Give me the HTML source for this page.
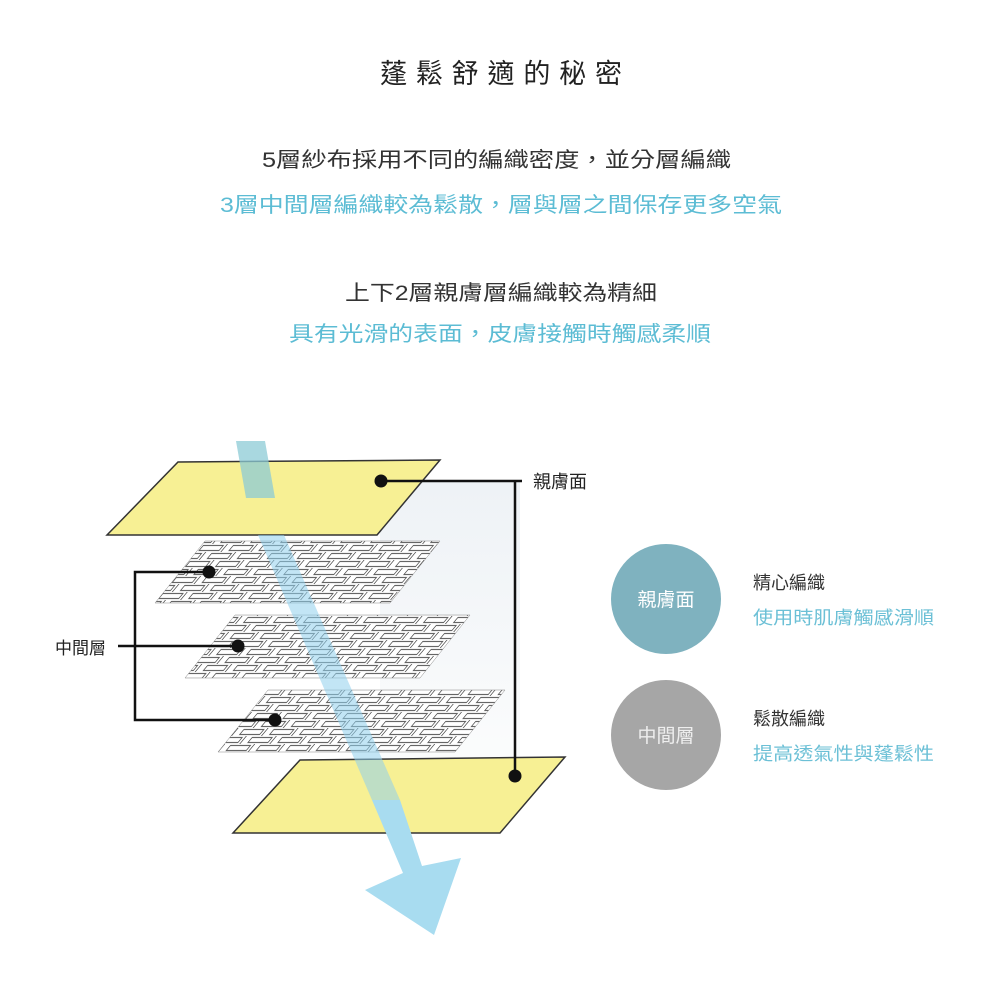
<!DOCTYPE html>
<html><head><meta charset="utf-8"><style>
html,body{margin:0;padding:0;background:#fff;width:1000px;height:1000px;overflow:hidden}
svg{display:block}
text{font-family:"Liberation Sans","Noto Sans CJK TC",sans-serif}
</style></head><body>
<svg width="1000" height="1000" viewBox="0 0 1000 1000" xmlns="http://www.w3.org/2000/svg">
<defs>
<pattern id="weave" width="30" height="16" patternUnits="userSpaceOnUse" patternTransform="skewX(-40)">
<rect width="30" height="16" fill="#fff"/>
<rect x="1" y="1.5" width="20" height="5" fill="none" stroke="#555" stroke-width="1"/>
<rect x="16" y="9.5" width="20" height="5" fill="none" stroke="#555" stroke-width="1"/>
<rect x="-14" y="9.5" width="20" height="5" fill="none" stroke="#555" stroke-width="1"/>
<line x1="24" y1="0" x2="24" y2="8" stroke="#555" stroke-width="1"/>
<line x1="9" y1="8" x2="9" y2="16" stroke="#555" stroke-width="1"/>
</pattern>
<linearGradient id="bg" x1="0" y1="0" x2="0" y2="1">
<stop offset="0" stop-color="#eef2f6"/><stop offset="1" stop-color="#fcfdfd"/>
</linearGradient>
</defs>

<g fill="#222" font-size="27">
<text x="380" y="83" textLength="242" lengthAdjust="spacing">蓬鬆舒適的秘密</text>
</g>
<g font-size="21">
<text x="262" y="167" fill="#333" textLength="469" lengthAdjust="spacingAndGlyphs">5層紗布採用不同的編織密度，並分層編織</text>
<text x="220" y="212" fill="#5cbcd4" textLength="562" lengthAdjust="spacingAndGlyphs">3層中間層編織較為鬆散，層與層之間保存更多空氣</text>
<text x="345" y="300" fill="#333" textLength="312" lengthAdjust="spacingAndGlyphs">上下2層親膚層編織較為精細</text>
<text x="289" y="341" fill="#5cbcd4" textLength="422" lengthAdjust="spacingAndGlyphs">具有光滑的表面，皮膚接觸時觸感柔順</text>
</g>

<rect x="380" y="482" width="140" height="300" fill="url(#bg)"/>

<polygon points="178,462 440,460 377,535 107,535" fill="#f7f094" stroke="#333" stroke-width="1.5"/>
<polygon points="205,541 440,541 390,603 155,603" fill="url(#weave)" stroke="#888" stroke-width="0.5"/>
<polygon points="235,615 470,615 420,678 185,678" fill="url(#weave)" stroke="#888" stroke-width="0.5"/>
<polygon points="268,690 505,690 455,752 218,752" fill="url(#weave)" stroke="#888" stroke-width="0.5"/>
<polygon points="300,760 565,757 500,833 233,833" fill="#f7f094" stroke="#333" stroke-width="1.5"/>

<polygon points="236,441 265,441 275,498 246,498" fill="#8ccbd6" opacity="0.75"/>
<polygon points="258,535 284,535 400,800 372,800" fill="#8fd0ec" opacity="0.55"/>
<polygon points="372,800 400,800 422,866 461,858 434,935 365,890 403,873" fill="#a8dcf0"/>

<g stroke="#111" stroke-width="2.5" fill="none">
<polyline points="381,481 522,481"/>
<polyline points="515,481 515,776"/>
<polyline points="209,572 135,572 135,720 275,720"/>
<polyline points="118,646 238,646"/>
</g>
<g fill="#111">
<circle cx="381" cy="481" r="6.5"/><circle cx="515" cy="776" r="6.5"/>
<circle cx="209" cy="572" r="6.5"/><circle cx="238" cy="646" r="6.5"/><circle cx="275" cy="720" r="6.5"/>
</g>
<text x="533" y="488" font-size="18" fill="#222">親膚面</text>
<text x="55" y="654" font-size="17" fill="#222">中間層</text>

<circle cx="666" cy="599" r="55" fill="#7fb2bf"/>
<circle cx="666" cy="735" r="55" fill="#a6a6a6"/>
<text x="666" y="606" font-size="19" fill="#fff" text-anchor="middle">親膚面</text>
<text x="666" y="742" font-size="19" fill="#eee" text-anchor="middle">中間層</text>
<g font-size="18">
<text x="753" y="589" fill="#333">精心編織</text>
<text x="753" y="624" fill="#6cc0d6" textLength="181" lengthAdjust="spacingAndGlyphs">使用時肌膚觸感滑順</text>
<text x="753" y="725" fill="#333">鬆散編織</text>
<text x="753" y="760" fill="#6cc0d6" textLength="181" lengthAdjust="spacingAndGlyphs">提高透氣性與蓬鬆性</text>
</g>
</svg>
</body></html>
